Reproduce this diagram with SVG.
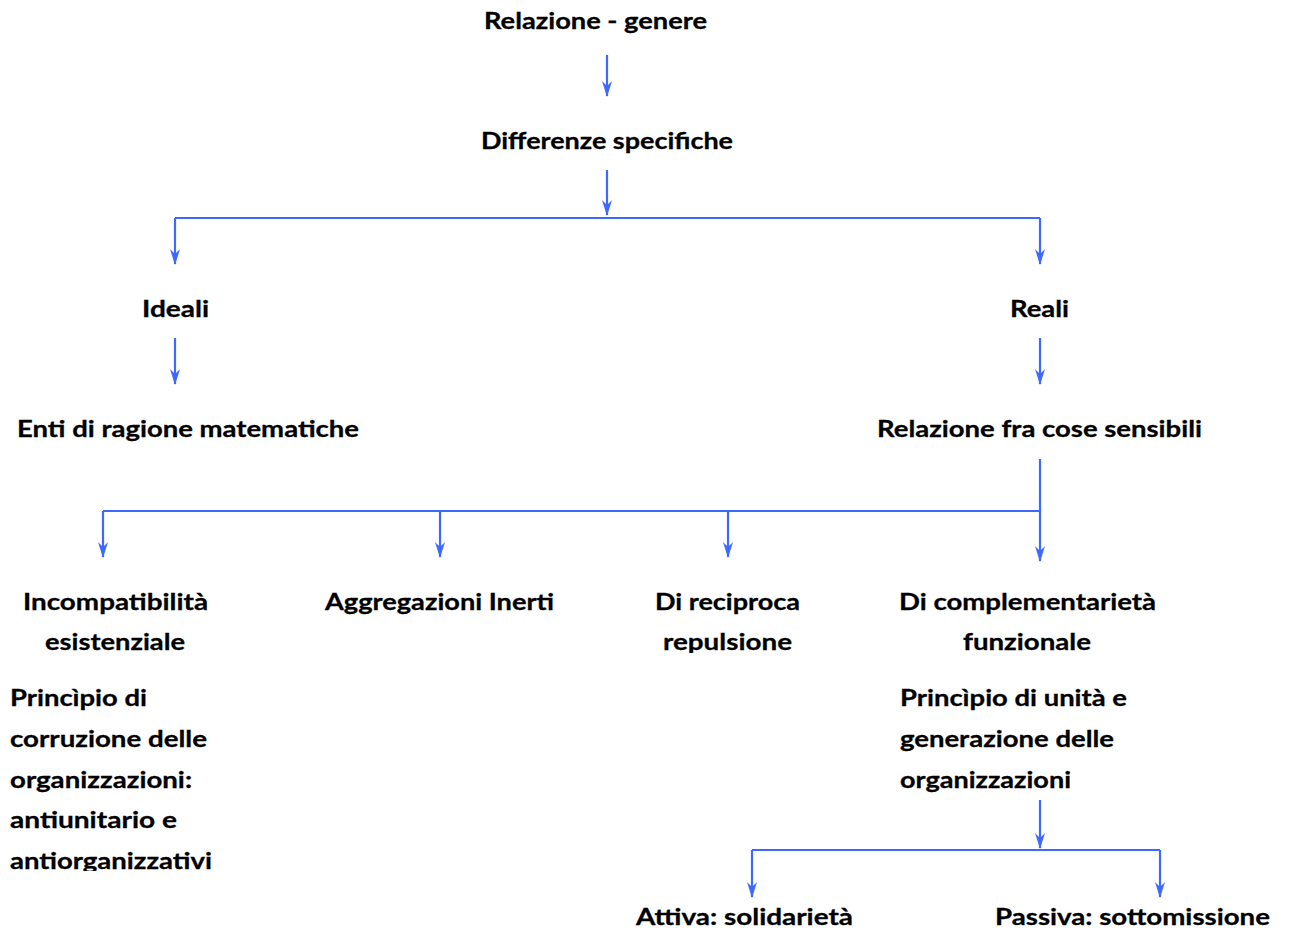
<svg xmlns="http://www.w3.org/2000/svg" width="1289" height="934" viewBox="0 0 1289 934">
<style>
text{font-family:Lato,"Open Sans","Liberation Sans",sans-serif;font-weight:bold;font-size:23px;fill:#000;stroke:#000;stroke-width:0.3}
.c{stroke:#3d69ff;stroke-width:2.2;fill:none}
.h{fill:#3d69ff;stroke:none}
</style>
<defs>
<marker id="ah" viewBox="0 0 16 11" refX="15" refY="5.5" markerWidth="16" markerHeight="11" markerUnits="userSpaceOnUse" orient="auto">
<path class="h" d="M16,5.5 L0,0.5 L5,5.5 L0,10.5 Z"/>
</marker>
<clipPath id="c1"><rect x="0" y="580" width="240" height="72"/></clipPath>
<clipPath id="c2"><rect x="620" y="580" width="220" height="73"/></clipPath>
<clipPath id="c3"><rect x="880" y="580" width="300" height="72"/></clipPath>
<clipPath id="c4"><rect x="0" y="675" width="240" height="196"/></clipPath>
<clipPath id="c5"><rect x="880" y="675" width="300" height="121"/></clipPath>
</defs>
<rect width="1289" height="934" fill="#fff"/>
<g id="connectors">
<path class="c" d="M607,55 V96" marker-end="url(#ah)"/>
<path class="c" d="M607,170 V215" marker-end="url(#ah)"/>
<path class="c" d="M175,218 H1040"/>
<path class="c" d="M175,218 V264" marker-end="url(#ah)"/>
<path class="c" d="M1040,218 V264" marker-end="url(#ah)"/>
<path class="c" d="M175,338 V384" marker-end="url(#ah)"/>
<path class="c" d="M1040,338 V384" marker-end="url(#ah)"/>
<path class="c" d="M1040,459 V511 H103"/>
<path class="c" d="M103,511 V557" marker-end="url(#ah)"/>
<path class="c" d="M440,511 V557" marker-end="url(#ah)"/>
<path class="c" d="M728,511 V557" marker-end="url(#ah)"/>
<path class="c" d="M1040,511 V561" marker-end="url(#ah)"/>
<path class="c" d="M1040,800 V848" marker-end="url(#ah)"/>
<path class="c" d="M752,850 H1160"/>
<path class="c" d="M752,850 V897" marker-end="url(#ah)"/>
<path class="c" d="M1160,850 V897" marker-end="url(#ah)"/>
</g>
<g id="n-relazione"><text x="484" y="29" textLength="223" lengthAdjust="spacingAndGlyphs">Relazione - genere</text></g>
<g id="n-differenze"><text x="481" y="149" textLength="252" lengthAdjust="spacingAndGlyphs">Differenze specifiche</text></g>
<g id="n-ideali"><text x="142" y="317" textLength="67" lengthAdjust="spacingAndGlyphs">Ideali</text></g>
<g id="n-reali"><text x="1010" y="317" textLength="59" lengthAdjust="spacingAndGlyphs">Reali</text></g>
<g id="n-enti"><text x="17" y="437" textLength="342" lengthAdjust="spacingAndGlyphs">Enti di ragione matematiche</text></g>
<g id="n-sensibili"><text x="877" y="437" textLength="325" lengthAdjust="spacingAndGlyphs">Relazione fra cose sensibili</text></g>
<g id="n-incompatibilita" clip-path="url(#c1)">
<text x="23" y="610" textLength="185" lengthAdjust="spacingAndGlyphs">Incompatibilità</text>
<text x="45" y="650" textLength="140" lengthAdjust="spacingAndGlyphs">esistenziale</text>
</g>
<g id="n-aggregazioni"><text x="325" y="610" textLength="229" lengthAdjust="spacingAndGlyphs">Aggregazioni Inerti</text></g>
<g id="n-repulsione" clip-path="url(#c2)">
<text x="655" y="610" textLength="145" lengthAdjust="spacingAndGlyphs">Di reciproca</text>
<text x="663" y="650" textLength="129" lengthAdjust="spacingAndGlyphs">repulsione</text>
</g>
<g id="n-complementarieta" clip-path="url(#c3)">
<text x="899" y="610" textLength="257" lengthAdjust="spacingAndGlyphs">Di complementarietà</text>
<text x="963" y="650" textLength="128" lengthAdjust="spacingAndGlyphs">funzionale</text>
</g>
<g id="n-corruzione" clip-path="url(#c4)">
<text x="10" y="706" textLength="137" lengthAdjust="spacingAndGlyphs">Princìpio di</text>
<text x="10" y="747" textLength="197" lengthAdjust="spacingAndGlyphs">corruzione delle</text>
<text x="10" y="788" textLength="182" lengthAdjust="spacingAndGlyphs">organizzazioni:</text>
<text x="10" y="828" textLength="167" lengthAdjust="spacingAndGlyphs">antiunitario e</text>
<text x="10" y="869" textLength="202" lengthAdjust="spacingAndGlyphs">antiorganizzativi</text>
</g>
<g id="n-unita" clip-path="url(#c5)">
<text x="900" y="706" textLength="227" lengthAdjust="spacingAndGlyphs">Princìpio di unità e</text>
<text x="900" y="747" textLength="214" lengthAdjust="spacingAndGlyphs">generazione delle</text>
<text x="900" y="788" textLength="171" lengthAdjust="spacingAndGlyphs">organizzazioni</text>
</g>
<g id="n-attiva"><text x="636" y="925" textLength="217" lengthAdjust="spacingAndGlyphs">Attiva: solidarietà</text></g>
<g id="n-passiva"><text x="995" y="925" textLength="275" lengthAdjust="spacingAndGlyphs">Passiva: sottomissione</text></g>
</svg>
